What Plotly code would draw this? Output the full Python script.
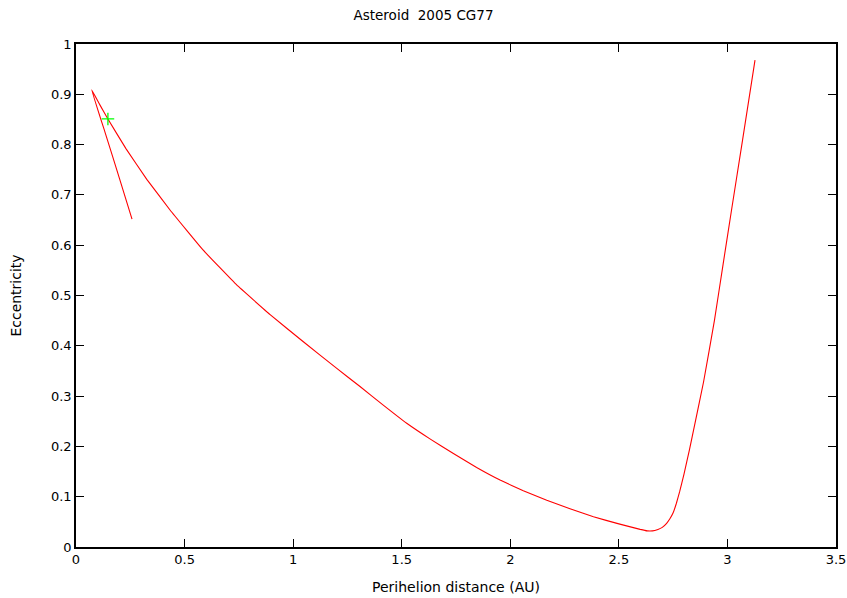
import plotly.graph_objects as go

# Orbital evolution track (perihelion distance q in AU, eccentricity e)
q_track = [0.258, 0.200, 0.137, 0.072,
           0.110, 0.147, 0.230, 0.326, 0.433, 0.586, 0.740, 0.894, 1.047, 1.201,
           1.308, 1.415, 1.523, 1.630, 1.738, 1.845, 1.953, 2.060, 2.168, 2.275,
           2.383, 2.500, 2.598, 2.630, 2.655,
           2.680, 2.700, 2.720, 2.735, 2.750, 2.765, 2.780, 2.800, 2.825, 2.850,
           2.890, 2.940, 2.980, 3.020, 3.070, 3.127]
e_track = [0.652, 0.733, 0.820, 0.909,
           0.879, 0.851, 0.792, 0.731, 0.670, 0.590, 0.521, 0.462, 0.408, 0.355,
           0.319, 0.282, 0.246, 0.215, 0.186, 0.158, 0.133, 0.112, 0.093, 0.076,
           0.060, 0.046, 0.035, 0.032, 0.032,
           0.035, 0.039, 0.047, 0.056, 0.068, 0.087, 0.110, 0.145, 0.193, 0.245,
           0.328, 0.450, 0.562, 0.673, 0.810, 0.968]

# Current orbit
q_now = [0.147]
e_now = [0.851]

x_ticks = [0, 0.5, 1, 1.5, 2, 2.5, 3, 3.5]
x_ticktext = ["0", "0.5", "1", "1.5", "2", "2.5", "3", "3.5"]
y_ticks = [0, 0.1, 0.2, 0.3, 0.4, 0.5, 0.6, 0.7, 0.8, 0.9, 1]
y_ticktext = ["0", "0.1", "0.2", "0.3", "0.4", "0.5", "0.6", "0.7", "0.8", "0.9", "1"]

fig = go.Figure()
fig.add_trace(go.Scatter(x=q_track, y=e_track, mode="lines",
                         line=dict(color="#ff0000", width=1.1, shape="spline", smoothing=0.25),
                         showlegend=False, hoverinfo="skip"))
fig.add_trace(go.Scatter(x=q_now, y=e_now, mode="markers",
                         marker=dict(symbol="cross-thin", size=9,
                                     line=dict(color="#00ff00", width=1.3)),
                         showlegend=False))

font = "DejaVu Sans, Liberation Sans, Arial, sans-serif"
axis_common = dict(showgrid=False, zeroline=False, showline=True, linecolor="black",
                   linewidth=1.5, mirror="ticks", ticks="inside", ticklen=8,
                   tickcolor="black", tickwidth=1, automargin=False,
                   tickfont=dict(family=font, size=13, color="black"))

fig.update_layout(
    width=847, height=598,
    margin=dict(l=76, r=11, t=44, b=51),
    plot_bgcolor="white", paper_bgcolor="white",
    title=dict(text="Asteroid  2005 CG77", x=0.5, xanchor="center", y=0.975, yanchor="middle",
               font=dict(family=font, size=13.5, color="black")),
    xaxis=dict(range=[0, 3.5], tickvals=x_ticks, ticktext=x_ticktext,
               title=dict(text="Perihelion distance (AU)", standoff=16,
                          font=dict(family=font, size=14, color="black")),
               **axis_common),
    yaxis=dict(range=[0, 1], tickvals=y_ticks, ticktext=y_ticktext,
               title=dict(text="Eccentricity", standoff=26,
                          font=dict(family=font, size=14, color="black")),
               **axis_common),
)

fig.write_html("out.html", config={"displayModeBar": False},
               post_script="document.body.style.margin='0';document.body.style.overflow='hidden';")
